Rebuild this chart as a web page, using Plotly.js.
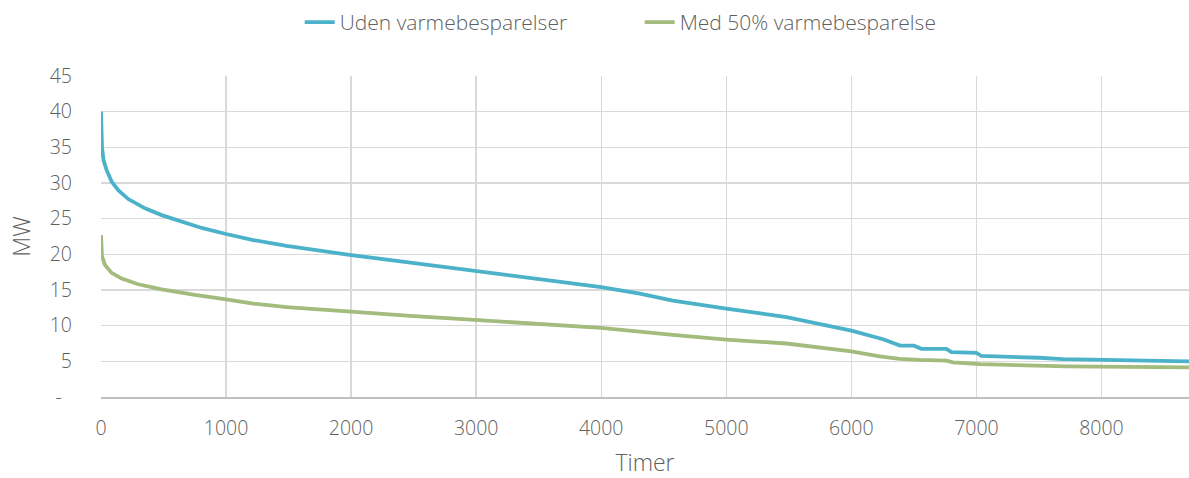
<!DOCTYPE html>
<html>
<head>
<meta charset="utf-8">
<script src="https://cdn.plot.ly/plotly-3.0.1.min.js"></script>
<style>html,body{margin:0;padding:0;background:#fff;}#chart{width:1189px;height:478px;}</style>
</head>
<body>
<div id="chart"></div>
<script>
// Series names
const seriesNames = ["Uden varmebesparelser", "Med 50% varmebesparelse"];

// Uden varmebesparelser (hours, MW)
const hoursUden = [0, 3, 8, 20, 45, 85, 138, 218, 352, 485, 645, 805, 1000, 1218, 1484, 1751, 2000, 2443, 3000, 3509, 4000, 4308, 4572, 5000, 5481, 6000, 6254, 6390, 6500, 6560, 6760, 6800, 7000, 7040, 7220, 7500, 7690, 8050, 8425, 8700];
const mwUden    = [40, 36.5, 35, 33.2, 31.8, 30.2, 29.0, 27.75, 26.45, 25.5, 24.6, 23.7, 22.85, 22.0, 21.17, 20.47, 19.9, 18.9, 17.6, 16.5, 15.4, 14.5, 13.5, 12.4, 11.2, 9.3, 8.1, 7.2, 7.2, 6.75, 6.75, 6.3, 6.2, 5.75, 5.7, 5.5, 5.3, 5.15, 5.0, 5.0];

// Med 50% varmebesparelse (hours, MW)
const hoursMed = [0, 3, 8, 32, 85, 165, 298, 485, 751, 1000, 1218, 1484, 1751, 2000, 2443, 3000, 3509, 4000, 4572, 5000, 5481, 6000, 6227, 6387, 6547, 6760, 6813, 7026, 7720, 8412, 8700];
const mwMed    = [22.7, 20.5, 19.7, 18.5, 17.4, 16.6, 15.8, 15.1, 14.3, 13.7, 13.1, 12.6, 12.22, 11.96, 11.4, 10.8, 10.25, 9.7, 8.7, 8.05, 7.5, 6.4, 5.7, 5.35, 5.2, 5.1, 4.85, 4.6, 4.3, 4.15, 4.15];

// Axis ticks
const xTickVals = [0, 1000, 2000, 3000, 4000, 5000, 6000, 7000, 8000];
const yTickVals = [0, 5, 10, 15, 20, 25, 30, 35, 40, 45];
const yTickText = ["-\u00a0\u00a0", "5", "10", "15", "20", "25", "30", "35", "40", "45"];

const fontFam = "'Open Sans', 'Segoe UI', sans-serif";
const txtCol = "#5f5f5f";

const traces = [
  {x: hoursUden, y: mwUden, name: seriesNames[0], type: "scatter", mode: "lines",
   line: {color: "#4BB2C9", width: 3.8}},
  {x: hoursMed, y: mwMed, name: seriesNames[1], type: "scatter", mode: "lines",
   line: {color: "#A3BB7C", width: 3.8}}
];

const layout = {
  width: 1189, height: 478,
  margin: {l: 101, r: 0, t: 76, b: 81},
  paper_bgcolor: "#fff", plot_bgcolor: "#fff",
  font: {family: fontFam, color: txtCol, size: 19, weight: 300},
  showlegend: true,
  legend: {orientation: "h", xref: "container", yref: "container", x: 0.538, xanchor: "center", y: 0.996, yanchor: "top",
           font: {size: 21, color: txtCol, weight: 300}, entrywidth: 295, entrywidthmode: "pixels", tracegroupgap: 0},
  xaxis: {
    range: [0, 8700], tickvals: xTickVals, showgrid: true, gridcolor: "#D9D9D9", gridwidth: 1.4,
    zeroline: false, showline: true, linecolor: "#BFBFBF", linewidth: 1.5,
    ticks: "", ticklabelstandoff: 13, tickfont: {size: 19.5, color: txtCol, weight: 300},
    title: {text: "Timer", font: {size: 23, color: txtCol, weight: 300}, standoff: 18}
  },
  yaxis: {
    range: [0, 45], tickvals: yTickVals, ticktext: yTickText, showgrid: true, gridcolor: "#D9D9D9", gridwidth: 1.4,
    zeroline: false, showline: false, ticks: "", ticklabelstandoff: 28, tickfont: {size: 19.5, color: txtCol, weight: 300},
    title: {text: "MW", font: {size: 23, color: txtCol, weight: 300}, standoff: 12}
  }
};

Plotly.newPlot("chart", traces, layout, {displayModeBar: false, staticPlot: true});
</script>
</body>
</html>
